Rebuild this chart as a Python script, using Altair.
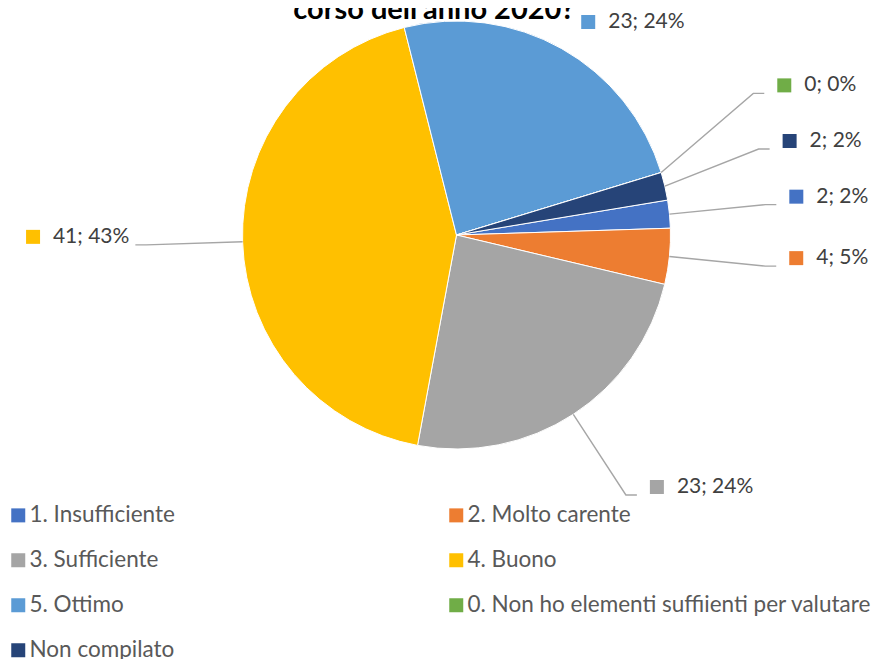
import math
import altair as alt
import pandas as pd

# ---------------- data ----------------
categories = [
    "1. Insufficiente",
    "2. Molto carente",
    "3. Sufficiente",
    "4. Buono",
    "5. Ottimo",
    "0. Non ho elementi suffiienti per valutare",
    "Non compilato",
]
counts = [2, 4, 23, 41, 23, 0, 2]
percent_labels = ["2%", "5%", "24%", "43%", "24%", "0%", "2%"]
title_text = "corso dell'anno 2020?"

# ---------------- style / layout ----------------
palette = ["#4472C4", "#ED7D31", "#A5A5A5", "#FFC000", "#5B9BD5", "#70AD47", "#264478"]
FONT = "Lato"
W, H = 867, 651                 # drawing area
CX, CY, R = 448.5, 227.0, 214.0  # pie centre and radius in pixels
FIRST_SLICE_DEG = 80.6          # Excel "angle of first slice"
ELBOW_R = 1.45                  # leader-line elbow radius (in pie radii)
GAP = 0.26                      # min vertical gap between labels (pie radii)
TOP_LIMIT_PX = 14               # labels may not rise above this
LEADER_MIN = 0.2                # no leader line when label is this close
PX = 1.0 / R                    # one pixel in pie-radius units
LABEL_SIZE = 21
LEGEND_SIZE = 22.5
LEGEND_COLS = 2
SYMBOL_AREA = 196

total = sum(counts)

# ---------------- slices table ----------------
slices = pd.DataFrame({
    "cat": categories,
    "count": counts,
    "order": list(range(len(categories))),
    "label": [f"{c}; {p}" for c, p in zip(counts, percent_labels)],
})

# legend is filled column by column: reorder so it reads row by row
n_rows = math.ceil(len(categories) / LEGEND_COLS)
legend_idx = [r * LEGEND_COLS + c for c in range(LEGEND_COLS) for r in range(n_rows)
              if r * LEGEND_COLS + c < len(categories)]
legend_domain = [categories[k] for k in legend_idx]
legend_range = [palette[k] for k in legend_idx]

# ---------------- label layout derived from the values ----------------
items = []
cum = 0.0
for i, (cat, n) in enumerate(zip(categories, counts)):
    a0 = FIRST_SLICE_DEG + cum / total * 360.0
    cum += n
    a1 = FIRST_SLICE_DEG + cum / total * 360.0
    mid = math.radians((a0 + a1) / 2.0)
    s, c = math.sin(mid), math.cos(mid)
    ex, ey = ELBOW_R * s, ELBOW_R * c
    ey_max = (CY - TOP_LIMIT_PX) / R - 8 * PX
    if ey > ey_max and c > 0:
        rr = ey_max / c
        ex, ey = rr * s, ey_max
    items.append(dict(i=i, cat=cat, px=s, py=c, ex=ex, ey=ey, right=s >= 0,
                      label=slices.loc[i, "label"]))

for side in (True, False):
    grp = sorted([it for it in items if it["right"] == side], key=lambda d: d["ey"])
    prev = None
    for it in grp:
        if prev is not None and it["ey"] < prev + GAP:
            it["ey"] = prev + GAP
        prev = it["ey"]

line_rows, right_rows, left_rows = [], [], []
for it in items:
    ly = it["ey"] + 8 * PX
    dist = math.hypot(it["ex"] - it["px"], it["ey"] - it["py"])
    has_line = dist > LEADER_MIN
    if it["right"]:
        lend = it["ex"] + 11 * PX
        shift = 0 if has_line else -15 * PX
        right_rows.append(dict(cat=it["cat"], label=it["label"], sx=it["ex"] + 31 * PX + shift,
                               tx=it["ex"] + 51 * PX + shift, ty=ly))
    else:
        lend = it["ex"] - 11 * PX
        tx = it["ex"] - 17 * PX
        width_est = len(it["label"]) * 10.9 * PX
        left_rows.append(dict(cat=it["cat"], label=it["label"], sx=tx - width_est - 20 * PX,
                              tx=tx, ty=ly))
    if has_line:
        line_rows += [
            dict(cat=it["cat"], seq=0, x=it["px"], y=it["py"]),
            dict(cat=it["cat"], seq=1, x=it["ex"], y=it["ey"]),
            dict(cat=it["cat"], seq=2, x=lend, y=it["ey"]),
        ]

lines_df = pd.DataFrame(line_rows)
right_df = pd.DataFrame(right_rows)
left_df = pd.DataFrame(left_rows)
labels_df = pd.concat([right_df, left_df], ignore_index=True)

# ---------------- scales & encodings ----------------
xs = alt.Scale(domain=[-CX / R, (W - CX) / R], range=[0, W], nice=False, zero=False)
ys = alt.Scale(domain=[-(H - CY) / R, CY / R], range=[H, 0], nice=False, zero=False)

legend = alt.Legend(
    orient="none", legendX=-1, legendY=496, columns=LEGEND_COLS, columnPadding=270,
    rowPadding=22, symbolType="square", symbolSize=SYMBOL_AREA, symbolStrokeWidth=0,
    labelFont=FONT, labelFontSize=LEGEND_SIZE, labelColor="#595959", labelOffset=0,
    labelLimit=600, title=None, padding=0,
)
color_enc = alt.Color("cat:N", scale=alt.Scale(domain=legend_domain, range=legend_range),
                      legend=legend)

pie = alt.Chart(slices).mark_arc(
    outerRadius=R, x=CX, y=CY, stroke="white", strokeWidth=1
).encode(
    theta=alt.Theta("count:Q", stack=True,
                    scale=alt.Scale(range=[math.radians(FIRST_SLICE_DEG),
                                           math.radians(FIRST_SLICE_DEG) + 2 * math.pi])),
    color=color_enc,
    order=alt.Order("order:Q"),
)

leaders = alt.Chart(lines_df).mark_line(color="#A6A6A6", strokeWidth=1.4).encode(
    x=alt.X("x:Q", scale=xs, axis=None),
    y=alt.Y("y:Q", scale=ys, axis=None),
    detail="cat:N",
    order="seq:Q",
)

squares = alt.Chart(labels_df).mark_square(size=SYMBOL_AREA, opacity=1).encode(
    x=alt.X("sx:Q", scale=xs, axis=None),
    y=alt.Y("ty:Q", scale=ys, axis=None),
    color=color_enc,
)

right_text = alt.Chart(right_df).mark_text(
    align="left", baseline="middle", font=FONT, fontSize=LABEL_SIZE, color="#404040"
).encode(
    x=alt.X("tx:Q", scale=xs, axis=None),
    y=alt.Y("ty:Q", scale=ys, axis=None),
    text="label:N",
)

left_text = alt.Chart(left_df).mark_text(
    align="right", baseline="middle", font=FONT, fontSize=LABEL_SIZE, color="#404040"
).encode(
    x=alt.X("tx:Q", scale=xs, axis=None),
    y=alt.Y("ty:Q", scale=ys, axis=None),
    text="label:N",
)

title = alt.Chart(pd.DataFrame({"t": [title_text]})).mark_text(
    align="center", baseline="alphabetic", font=FONT, fontSize=29, fontWeight="bold",
    color="#000000"
).encode(
    x=alt.value(426), y=alt.value(11), text="t:N",
)

chart = alt.layer(pie, leaders, squares, right_text, left_text, title).properties(
    width=W, height=H, autosize=alt.AutoSizeParams(type="none"), padding=0,
    background="white",
).configure_view(stroke=None)

chart.save("out.html", embed_options={"renderer": "svg", "actions": False})
